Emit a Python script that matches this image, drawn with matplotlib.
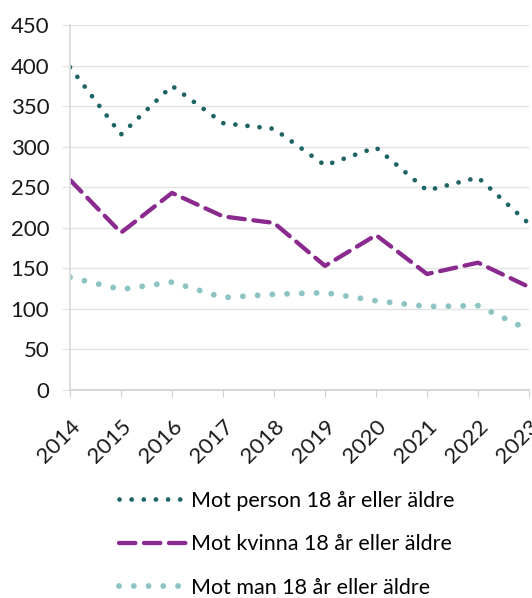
import matplotlib
matplotlib.use("Agg")
import matplotlib.pyplot as plt

years = [2014, 2015, 2016, 2017, 2018, 2019, 2020, 2021, 2022, 2023]
person = [398, 315, 375, 329, 322, 277, 299, 246, 262, 205]
kvinna = [259, 194, 243, 214, 206, 153, 191, 143, 157, 127]
man = [139, 124, 133, 114, 118, 120, 110, 103, 104, 74]
labels = ["Mot person 18 år eller äldre", "Mot kvinna 18 år eller äldre", "Mot man 18 år eller äldre"]
yticks = [0, 50, 100, 150, 200, 250, 300, 350, 400, 450]

plt.rcParams['font.family'] = ['Lato', 'DejaVu Sans']

fig = plt.figure(figsize=(5.32, 5.98), dpi=100)
ax = fig.add_axes([70/532, 1-390/598, (529-70)/532, (390-25)/598])

l1, = ax.plot(years, person, color='#1E6464', lw=3.4, linestyle=(0, (0.01, 2.56)),
              dash_capstyle='round', solid_capstyle='round', label=labels[0])
l2, = ax.plot(years, kvinna, color='#8A2A8E', lw=3.1, linestyle=(0, (3.8, 2.0)),
              dash_capstyle='round', label=labels[1])
l3, = ax.plot(years, man, color='#8CC3C3', lw=4.2, linestyle=(0, (0.01, 2.52)),
              dash_capstyle='round', label=labels[2])

ax.set_xlim(2014, 2023)
ax.set_ylim(0, 450)
ax.set_yticks(yticks)
ax.set_xticks(years)
ax.set_xticklabels([str(y) for y in years], rotation=45, ha='right', va='top',
                   rotation_mode='anchor')
ax.grid(axis='y', color='#e3e3e3', lw=1)
ax.set_axisbelow(True)
for s in ['top', 'right']:
    ax.spines[s].set_visible(False)
ax.spines['left'].set_color('#d9d9d9')
ax.spines['bottom'].set_color('#d0d0d0')
ax.spines['left'].set_linewidth(1.2)
ax.spines['bottom'].set_linewidth(1.2)
ax.tick_params(axis='y', length=6, color='#e3e3e3', pad=9, labelsize=16, labelcolor='#1a1a1a')
ax.tick_params(axis='x', length=5, color='#d0d0d0', pad=14, labelsize=16, labelcolor='#1a1a1a')

fig.legend(handles=[l1, l2, l3], loc='upper left', bbox_to_anchor=(110/532, 1-482/598),
           frameon=False, fontsize=15.5, handlelength=3.2, handletextpad=0.15,
           labelspacing=1.1, borderaxespad=0)

fig.savefig('out.png', dpi=100)
